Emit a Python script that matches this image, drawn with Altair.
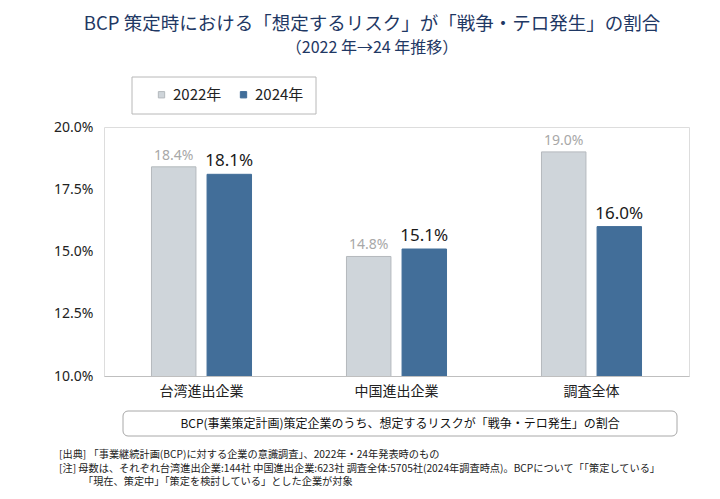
import altair as alt
import pandas as pd

categories = ["台湾進出企業", "中国進出企業", "調査全体"]
years = ["2022年", "2024年"]
v2022 = [18.4, 14.8, 19.0]
v2024 = [18.1, 15.1, 16.0]
y_ticks = [0.10, 0.125, 0.15, 0.175, 0.20]

title_text = "BCP 策定時における「想定するリスク」が「戦争・テロ発生」の割合"
subtitle_text = "（2022 年→24 年推移）"
box_text = "BCP(事業策定計画)策定企業のうち、想定するリスクが「戦争・テロ発生」の割合"
note1 = "[出典] 「事業継続計画(BCP)に対する企業の意識調査」、2022年・24年発表時のもの"
note2 = "[注]  母数は、それぞれ台湾進出企業:144社  中国進出企業:623社  調査全体:5705社(2024年調査時点)。BCPについて「「策定している」"
note3 = "「現在、策定中」「策定を検討している」とした企業が対象"

rows = []
for c, a, b in zip(categories, v2022, v2024):
    rows.append({"category": c, "year": years[0], "value": a / 100})
    rows.append({"category": c, "year": years[1], "value": b / 100})
df = pd.DataFrame(rows)
one = pd.DataFrame({"k": [0]})

JP = "Noto Sans CJK JP"
NUM = "Noto Sans"

x_enc = alt.X("category:N", sort=categories,
              scale=alt.Scale(paddingInner=0.487, paddingOuter=0.2435),
              axis=alt.Axis(title=None, labelAngle=0, ticks=False, domainColor="#bfbfbf",
                            labelFontSize=14, labelFont=JP, labelColor="#222222",
                            labelPadding=8))
xo_enc = alt.XOffset("year:N", sort=years, scale=alt.Scale(paddingInner=0.2, paddingOuter=0))
y_enc = alt.Y("value:Q", scale=alt.Scale(domain=[0.10, 0.20], zero=False, nice=False),
              axis=alt.Axis(title=None, values=y_ticks, format=".1%", grid=False, domain=False,
                            ticks=False, labelFontSize=14, labelFont=NUM, labelColor="#222222",
                            labelPadding=11))

bars = alt.Chart(df).mark_bar(strokeWidth=1, clip=True).encode(
    x=x_enc, xOffset=xo_enc, y=y_enc,
    color=alt.Color("year:N", sort=years,
                    scale=alt.Scale(domain=years, range=["#cfd5da", "#426e99"]),
                    legend=alt.Legend(title=None, orient="none", legendX=50, legendY=-40,
                                      direction="horizontal", symbolType="square",
                                      symbolSize=40, symbolStrokeWidth=1,
                                      labelFontSize=15, labelFont=JP, labelColor="#222222",
                                      columnPadding=14, padding=0)),
    stroke=alt.Stroke("year:N", sort=years,
                      scale=alt.Scale(domain=years, range=["#b4b9bd", "#426e99"]),
                      legend=None),
)

lab22 = alt.Chart(df).transform_filter(alt.datum.year == years[0]).mark_text(
    baseline="bottom", dy=-4, fontSize=14, font=NUM, color="#a8a8a8"
).encode(x=alt.X("category:N", sort=categories), xOffset=alt.XOffset("year:N", sort=years),
         y="value:Q", text=alt.Text("value:Q", format=".1%"))

lab24 = alt.Chart(df).transform_filter(alt.datum.year == years[1]).mark_text(
    baseline="bottom", dy=-4, fontSize=17, font=NUM, color="#1a1a1a"
).encode(x=alt.X("category:N", sort=categories), xOffset=alt.XOffset("year:N", sort=years),
         y="value:Q", text=alt.Text("value:Q", format=".1%"))

legend_box = alt.Chart(one).mark_rect(fill="white", stroke="#b8b8b8", strokeWidth=1).encode(
    x=alt.value(28), x2=alt.value(212), y=alt.value(-50), y2=alt.value(-13))

bottom_box = alt.Chart(one).mark_rect(fill="white", stroke="#a8a8a8", strokeWidth=1,
                                      cornerRadius=5).encode(
    x=alt.value(19), x2=alt.value(573), y=alt.value(284), y2=alt.value(309))

def txt(text, x, y, size, color, align="center", font=JP):
    return alt.Chart(one).mark_text(text=text, fontSize=size, font=font, color=color,
                                    align=align, baseline="middle").encode(
        x=alt.value(x), y=alt.value(y))

layers = [
    legend_box, bottom_box, bars, lab22, lab24,
    txt(title_text, 268, -103, 18.5, "#1f3864"),
    txt(subtitle_text, 268, -79, 16, "#1f3864"),
    txt(box_text, 296, 297, 12, "#111111"),
    txt(note1, -45, 328, 10.2, "#222222", align="left"),
    txt(note2, -45, 341.5, 10.2, "#222222", align="left"),
    txt(note3, -21, 355, 10.2, "#222222", align="left"),
]

chart = alt.layer(*layers).properties(
    width=585, height=249,
    padding={"left": 96, "top": 119, "right": 23, "bottom": 118},
    autosize=alt.AutoSizeParams(type="none"),
).configure_view(stroke=None).configure(background="white")

chart.save("out.html", embed_options={"renderer": "svg", "actions": False})
